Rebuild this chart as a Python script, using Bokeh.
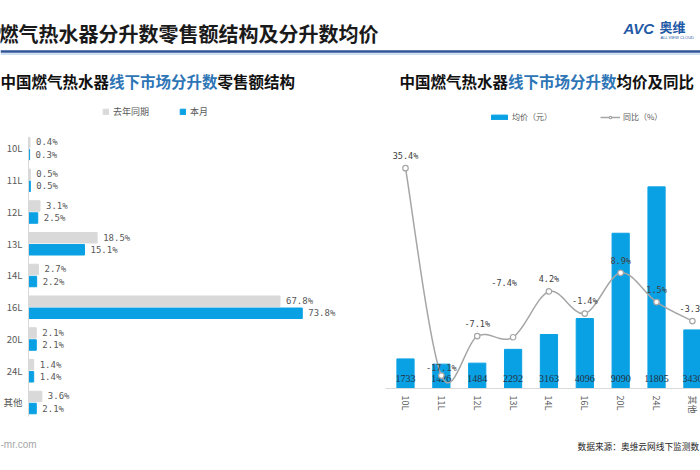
import math
from bokeh.plotting import figure
from bokeh.models import (Range1d, Legend, LegendItem, ColumnDataSource,
                          LinearScale, FixedTicker)
from bokeh.layouts import column, row
from bokeh.core.properties import value
from bokeh.embed import file_html
from bokeh.resources import INLINE

# ---------------- data ----------------
sizes = ["10L", "11L", "12L", "13L", "14L", "16L", "20L", "24L", "其他"]
share_last_year = [0.4, 0.5, 3.1, 18.5, 2.7, 67.8, 2.1, 1.4, 3.6]
share_this_month = [0.3, 0.5, 2.5, 15.1, 2.2, 73.8, 2.1, 1.4, 2.1]
avg_price = [1733, 1426, 1484, 2292, 3163, 4096, 9090, 11805, 3430]
yoy_pct = [35.4, -17.1, -7.1, -7.4, 4.2, -1.4, 8.9, 1.5, -3.3]

main_title = "燃气热水器分升数零售额结构及分升数均价"
left_title = ["中国燃气热水器", "线下市场分升数", "零售额结构"]
right_title = ["中国燃气热水器", "线下市场分升数", "均价及同比"]
source_note = "数据来源：奥维云网线下监测数"
site_note = "-mr.com"

# label placement (style, not data)
lbl_dy = [12, 8, 12, 54, 12, 13, 12, 12, 12]
lbl_dx = [0, 0, 0, -9, 0, 0, 0, 0, 0]

CJK = "Noto Sans CJK SC"
BLUE = "#0AA1E4"
GRAY = "#D9D9D9"
TXT = "#595959"
TBLUE = "#2E75B6"


def base(w, h, **kw):
    p = figure(width=w, height=h, output_backend="svg", toolbar_location=None,
               **kw)
    p.outline_line_color = None
    p.background_fill_color = "white"
    p.border_fill_color = "white"
    p.frame_align = False
    return p


# ---------------- header ----------------
head = base(700, 100, x_range=Range1d(0, 700), y_range=Range1d(100, 0),
            x_axis_location=None, y_axis_location=None,
            min_border=0)
head.grid.visible = False
head.text(x=[-2], y=[33], text=[main_title], text_font=value(CJK),
          text_font_size="20px", text_font_style="bold", text_color="#1A1A1A",
          text_baseline="middle", text_align="left")
head.segment(x0=[0], y0=[51], x1=[700], y1=[51], line_color="#2F5597",
             line_width=2.5)
head.segment(x0=[0], y0=[53.5], x1=[700], y1=[53.5], line_color="#9DC3E6",
             line_width=1)
head.text(x=[623], y=[27.5], text=["AVC"], text_font=value("Liberation Sans"),
          text_font_size="15px", text_font_style="bold italic",
          text_color="#1F5AA6", text_baseline="middle")
head.text(x=[659], y=[26], text=["奥维"], text_font=value(CJK),
          text_font_size="13px", text_font_style="bold", text_color="#1F5AA6",
          text_baseline="middle")
head.text(x=[660], y=[37], text=["ALL VIEW CLOUD"],
          text_font=value("Liberation Sans"), text_font_size="4px",
          text_color="#1F5AA6", text_baseline="middle")
FS = 15.5
for xs, segs in [(0, left_title), (399, right_title)]:
    off = xs
    for j, s in enumerate(segs):
        head.text(x=[off], y=[80], text=[s], text_font=value(CJK),
                  text_font_size=f"{FS}px", text_font_style="bold",
                  text_color=(TBLUE if j == 1 else "#111111"),
                  text_baseline="middle", text_align="left")
        off += len(s) * FS

# ---------------- left chart ----------------
ncat = len(sizes)
ypos = [ncat - 1 - i for i in range(ncat)]          # 10L on top
lsrc = ColumnDataSource(dict(
    y_last=[y + 0.19 for y in ypos], y_cur=[y - 0.19 for y in ypos],
    last=share_last_year, cur=share_this_month,
    last_txt=[f"{v:.1f}%" for v in share_last_year],
    cur_txt=[f"{v:.1f}%" for v in share_this_month]))
lp = base(350, 332, x_range=Range1d(0, 86.8), y_range=Range1d(-0.882, 9.354),
          x_axis_location=None, min_border_left=28, min_border_right=0,
          min_border_top=5, min_border_bottom=2)
lp.grid.visible = False
r_last = lp.hbar(y="y_last", right="last", left=0, height=0.33, source=lsrc,
                 color=GRAY)
r_cur = lp.hbar(y="y_cur", right="cur", left=0, height=0.33, source=lsrc,
                color=BLUE)
for col, txt, ycol in [("last", "last_txt", "y_last"),
                       ("cur", "cur_txt", "y_cur")]:
    lp.text(x=col, y=ycol, text=txt, source=lsrc, x_offset=6,
            text_font=value("DejaVu Sans Mono"), text_font_size="9px",
            text_color=TXT, text_baseline="middle", text_align="left")
ya = lp.yaxis[0]
ya.ticker = FixedTicker(ticks=ypos)
ya.major_label_overrides = {y: s for y, s in zip(ypos, sizes)}
ya.bounds = (-0.45, 8.35)
ya.minor_tick_line_color = None
ya.axis_line_color = GRAY
ya.major_tick_line_color = None
ya.major_tick_out = 0
ya.major_tick_in = 0
ya.major_label_standoff = 6
ya.major_label_text_font = CJK
ya.major_label_text_font_size = "9.5px"
ya.major_label_text_color = TXT
lleg = Legend(items=[LegendItem(label="去年同期", renderers=[r_last]),
                     LegendItem(label="本月", renderers=[r_cur])],
              orientation="horizontal", location=(74, 312), padding=0,
              margin=0, spacing=30, glyph_width=7, glyph_height=7,
              label_height=10, label_standoff=4,
              label_text_font=CJK, label_text_font_size="9px",
              label_text_color=TXT, border_line_color=None,
              background_fill_alpha=0)
lp.add_layout(lleg)

# ---------------- right chart ----------------
pos = [i + 0.5 for i in range(ncat)]
rsrc = ColumnDataSource(dict(x=pos, price=avg_price,
                             price_txt=[str(v) for v in avg_price]))
rp = base(350, 332, x_range=Range1d(-0.0577, 8.726),
          y_range=Range1d(0, 16569), y_axis_location=None,
          min_border_left=35, min_border_right=0, min_border_top=5,
          min_border_bottom=44)
rp.extra_y_ranges = {"pct": Range1d(-20.38, 51.27)}
rp.extra_y_scales = {"pct": LinearScale()}
rp.grid.visible = False
r_bar = rp.vbar(x="x", top="price", width=0.48, source=rsrc, color=BLUE)
rp.text(x="x", y=0, text="price_txt", source=rsrc, y_offset=-10,
        text_font=value("Liberation Sans Narrow"), text_font_size="10px",
        text_color="#22303F", text_align="center", text_baseline="middle")

# smooth (Catmull-Rom -> cubic Bezier) rendering of the yoy line
pts = list(zip(pos, yoy_pct))
bx0, by0, bx1, by1, cx0, cy0, cx1, cy1 = ([] for _ in range(8))
for i in range(ncat - 1):
    p0 = pts[i - 1] if i > 0 else pts[i]
    p1 = pts[i]
    p2 = pts[i + 1]
    p3 = pts[i + 2] if i + 2 < ncat else pts[i + 1]
    bx0.append(p1[0]); by0.append(p1[1])
    bx1.append(p2[0]); by1.append(p2[1])
    cx0.append(p1[0] + (p2[0] - p0[0]) / 6); cy0.append(p1[1] + (p2[1] - p0[1]) / 6)
    cx1.append(p2[0] - (p3[0] - p1[0]) / 6); cy1.append(p2[1] - (p3[1] - p1[1]) / 6)
r_curve = rp.bezier(x0=bx0, y0=by0, x1=bx1, y1=by1, cx0=cx0, cy0=cy0,
                    cx1=cx1, cy1=cy1, line_color="#A6A6A6", line_width=1.5,
                    y_range_name="pct")
r_pts = rp.scatter(x=pos, y=yoy_pct, size=5.5, marker="circle",
                   fill_color="white", line_color="#A6A6A6", line_width=1.2,
                   y_range_name="pct")
psrc = ColumnDataSource(dict(x=pos, y=yoy_pct,
                             t=[f"{v:.1f}%" for v in yoy_pct],
                             dy=[-d for d in lbl_dy], dx=lbl_dx))
rp.text(x="x", y="y", text="t", source=psrc, x_offset="dx", y_offset="dy",
        text_font=value("DejaVu Sans Mono"), text_font_size="8.5px",
        text_color="#404040", text_align="center", text_baseline="middle",
        y_range_name="pct")
xa = rp.xaxis[0]
xa.ticker = FixedTicker(ticks=pos)
xa.major_label_overrides = {p: s for p, s in zip(pos, sizes)}
xa.minor_tick_line_color = None
xa.axis_line_color = GRAY
xa.major_tick_line_color = None
xa.major_tick_out = 0
xa.major_tick_in = 0
xa.major_label_standoff = 7
xa.major_label_orientation = -math.pi / 2
xa.major_label_text_font = CJK
xa.major_label_text_font_size = "9px"
xa.major_label_text_color = TXT
rleg = Legend(items=[LegendItem(label="均价（元）", renderers=[r_bar]),
                     LegendItem(label="同比（%）", renderers=[r_curve, r_pts])],
              orientation="horizontal", location=(104, 266), padding=0,
              margin=0, spacing=48, glyph_width=20, glyph_height=6,
              label_height=10, label_standoff=3,
              label_text_font=CJK, label_text_font_size="8px",
              label_text_color=TXT, border_line_color=None,
              background_fill_alpha=0)
rp.add_layout(rleg)

# ---------------- footer ----------------
foot = base(700, 38, x_range=Range1d(0, 700), y_range=Range1d(470, 432),
            x_axis_location=None, y_axis_location=None, min_border=0)
foot.grid.visible = False
foot.text(x=[0], y=[444], text=[site_note], text_font=value("Liberation Sans"),
          text_font_size="10px", text_color="#A6A6A6", text_baseline="middle")
foot.text(x=[577], y=[446], text=[source_note], text_font=value(CJK),
          text_font_size="8.7px", text_color="#262626", text_baseline="middle")

layout = column(head, row(lp, rp), foot, spacing=0)
open("out.html", "w").write(file_html(layout, INLINE))
